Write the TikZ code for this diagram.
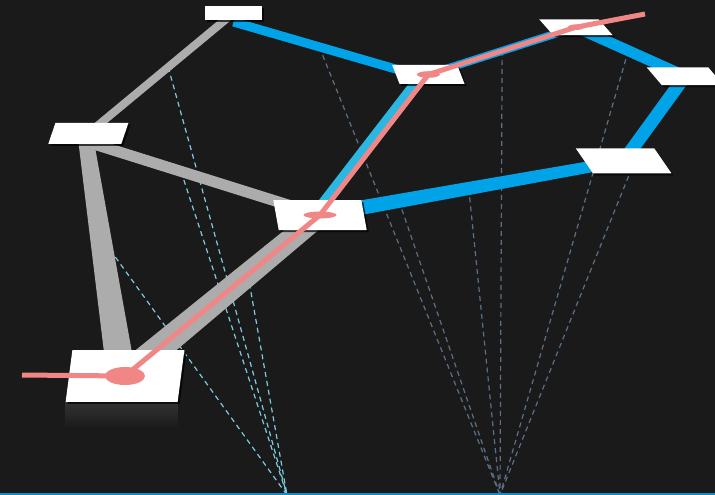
\documentclass[tikz,border=0pt]{standalone}
\usetikzlibrary{calc,shadows}
\definecolor{bg}{HTML}{1A1A1A}
\definecolor{linkgray}{HTML}{ACACAC}
\definecolor{linkblue}{HTML}{00A3E8}
\definecolor{linkcyan}{HTML}{2BB7E2}
\definecolor{pathred}{HTML}{F08686}
\definecolor{dashlight}{HTML}{7CCBE4}
\definecolor{dashdark}{HTML}{5B7087}
\definecolor{edgeline}{HTML}{0A8FC9}
\pgfdeclarelayer{back}
\pgfdeclarelayer{mid}
\pgfsetlayers{back,mid,main}

\begin{document}
\begin{tikzpicture}[x=1pt,y=-1pt,
    plate/.style ={fill=white, inner sep=0pt, drop shadow={shadow xshift=2pt, shadow yshift=-2pt, opacity=0.7, fill=black}},
    graylink/.style ={linkgray, line width=#1},
    bluelink/.style ={linkblue, line width=#1},
    lightproj/.style ={dashlight, line width=1.2pt, dash pattern=on 5pt off 4pt},
    darkproj/.style ={dashdark, line width=1.2pt, dash pattern=on 5pt off 4pt},
    hop/.style ={pathred, line width=5pt, line join=round}]
   \useasboundingbox (0,0) rectangle (715,495);

   \node[plate, minimum width=57pt, minimum height=14pt] (N1) at (233.5,13) {};
   \node[plate, xslant=0.34, minimum width=73pt, minimum height=21pt] (N2) at (88.4,133.3) {};
   \node[plate, xslant=0.13, minimum width=112pt, minimum height=51.7pt] (N3) at (125,376) {};
   \node[plate, xslant=-0.18, minimum width=88pt, minimum height=30pt] (N4) at (320,215) {};
   \node[plate, xslant=-0.39, minimum width=65pt, minimum height=19pt] (N5) at (428.4,74.5) {};
   \node[plate, xslant=-0.88, minimum width=59.5pt, minimum height=15.7pt] (N6) at (575.9,27.2) {};
   \node[plate, xslant=-0.85, minimum width=61.6pt, minimum height=17.7pt] (N7) at (685,76.2) {};
   \node[plate, xslant=-0.69, minimum width=78.5pt, minimum height=25pt] (N8) at (623.6,160.8) {};

   \coordinate (src)  at (22,375);
   \coordinate (dst)  at (645,14);
   \coordinate (ctlA) at (287,495);
   \coordinate (ctlB) at (500,495);

   \begin{pgfonlayer}{back}
   \fill[bg] (0,0) rectangle (715,495);
   \draw[lightproj] ($(N1.center)!0.45!(N2.center)$) to (ctlA);
   \draw[lightproj] ($([yshift=-9pt]N2.center)!0.4!(N4.center)$) to (ctlA);
   \draw[lightproj] ($(N2.center)!0.45!(N3.center)$) to (ctlA);
   \draw[lightproj] ($(N3.center)!0.63!(N4.center)$) to (ctlA);
   \draw[darkproj] ($([yshift=-9pt]N1.center)!0.44!([yshift=-4pt]N5.center)$) to (ctlB);
   \draw[darkproj] ($(N5.center)!0.5!(N6.center)$) to (ctlB);
   \draw[darkproj] ($(N4.center)!0.49!(N8.center)$) to (ctlB);
   \draw[darkproj] ($(N4.center)!0.26!(N8.center)$) to (ctlB);
   \draw[darkproj] ($(N6.center)!0.48!(N7.center)$) to (ctlB);
   \draw[darkproj] ($(N7.center)!0.59!(N8.center)$) to (ctlB);
   \draw[edgeline, line width=2.5pt] (0,494.5) -- (715,494.5);
   \end{pgfonlayer}

   \begin{pgfonlayer}{mid}
   \draw[graylink=8pt] (N1.center) to (N2.center);
   \draw[graylink=11pt] ([yshift=-9pt]N2.center) to (N4.center);
   \fill[linkgray] ($([xshift=-3.5pt]N2.center)!7.5pt!90:([xshift=-3.5pt]N3.center)$)
      -- ($([xshift=-3.5pt]N2.center)!7.5pt!-90:([xshift=-3.5pt]N3.center)$)
      -- ($([xshift=-3.5pt]N3.center)!14.5pt!90:([xshift=-3.5pt]N2.center)$)
      -- ($([xshift=-3.5pt]N3.center)!14.5pt!-90:([xshift=-3.5pt]N2.center)$) -- cycle;
   \fill[linkgray] ($(N3.center)!13.5pt!90:(N4.center)$)
      -- ($(N3.center)!13.5pt!-90:(N4.center)$)
      -- ($(N4.center)!10.5pt!90:(N3.center)$)
      -- ($(N4.center)!10.5pt!-90:(N3.center)$) -- cycle;
   \draw[bluelink=9pt] ([yshift=-9pt]N1.center) to ([yshift=-4pt]N5.center);
   \draw[bluelink=8pt] (N5.center) to (N6.center);
   \draw[bluelink=11pt] (N6.center) to (N7.center);
   \draw[bluelink=13pt] (N7.center) to (N8.center);
   \fill[linkblue] ($(N4.center)!7.5pt!90:(N8.center)$)
      -- ($(N4.center)!7.5pt!-90:(N8.center)$)
      -- ($(N8.center)!5.5pt!90:(N4.center)$)
      -- ($(N8.center)!5.5pt!-90:(N4.center)$) -- cycle;
   \draw[linkcyan, line width=12pt] ([xshift=-5pt]N4.center) to ([xshift=-5pt]N5.center);
   \shade[top color=white!11!bg, bottom color=bg] (N3.south west) rectangle ($(N3.south east)+(0,26)$);
   \end{pgfonlayer}

   \draw[hop] (src) -- (N3.center) -- (N4.center) -- (N5.center) -- (N6.center) -- (dst);
   \fill[pathred] (N3.center) ellipse [x radius=20, y radius=9];
   \fill[pathred] (N4.center) ellipse [x radius=16.5, y radius=3.5];
   \fill[pathred] (N5.center) ellipse [x radius=11.5, y radius=3.3];
   \fill[pathred] (N6.center) ellipse [x radius=8, y radius=2.8];
 \end{tikzpicture}
\end{document}
